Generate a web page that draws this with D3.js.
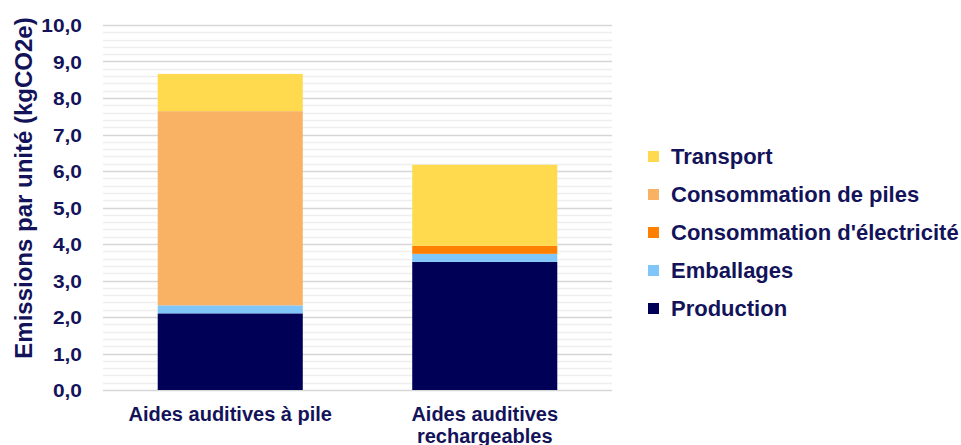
<!DOCTYPE html>
<html lang="fr">
<head>
<meta charset="utf-8">
<title>Emissions par unité</title>
<script src="https://cdn.jsdelivr.net/npm/d3@7"></script>
<style>
  body { margin: 0; background: #fff; }
  text { font-family: "Liberation Sans", Arial, sans-serif; font-weight: bold; fill: #13135a; }
</style>
</head>
<body>
<script>
// data
var categories = ["Aides auditives à pile", "Aides auditives rechargeables"];
var seriesNames = ["Production", "Emballages", "Consommation d'électricité", "Consommation de piles", "Transport"];
var production = [2.1, 3.51];
var emballages = [0.22, 0.22];
var electricite = [0, 0.22];
var piles = [5.32, 0];
var transport = [1.02, 2.22];
var yTicks = [0, 1, 2, 3, 4, 5, 6, 7, 8, 9, 10];

var colors = {
  "Production": "#000057",
  "Emballages": "#80c6f8",
  "Consommation d'électricité": "#ff8000",
  "Consommation de piles": "#f9b264",
  "Transport": "#ffda4f"
};

var w = 961, h = 445;
var margin = {top: 25, left: 103, bottom: 55};
var plotRight = 612;

var rows = categories.map(function(c, i) {
  return {
    cat: c,
    "Production": production[i],
    "Emballages": emballages[i],
    "Consommation d'électricité": electricite[i],
    "Consommation de piles": piles[i],
    "Transport": transport[i]
  };
});

var svg = d3.select("body").append("svg")
  .attr("width", w)
  .attr("height", h);

var x = d3.scaleBand()
  .domain(categories)
  .range([margin.left, plotRight])
  .paddingInner(0.43)
  .paddingOuter(0.215);

var y = d3.scaleLinear()
  .domain([0, 10])
  .range([390, margin.top]);

// minor gridlines every 0.2
var minor = d3.range(0, 10.01, 0.2).filter(function(v) { return Math.abs(v - Math.round(v)) > 0.01; });
svg.append("g").selectAll("line")
  .data(minor)
  .enter().append("line")
  .attr("x1", margin.left).attr("x2", plotRight)
  .attr("y1", function(d) { return Math.round(y(d)) + 0.5; })
  .attr("y2", function(d) { return Math.round(y(d)) + 0.5; })
  .style("stroke", "#eeeeee")
  .style("stroke-width", 1.3);

// major gridlines
svg.append("g").selectAll("line")
  .data(yTicks)
  .enter().append("line")
  .attr("x1", margin.left).attr("x2", plotRight)
  .attr("y1", function(d) { return Math.round(y(d)) + 0.5; })
  .attr("y2", function(d) { return Math.round(y(d)) + 0.5; })
  .style("stroke", "#d6d6d6")
  .style("stroke-width", 1.5);

// stacked bars
var stack = d3.stack().keys(seriesNames);
var layers = stack(rows);

svg.append("g").selectAll("g")
  .data(layers)
  .enter().append("g")
  .attr("fill", function(d) { return colors[d.key]; })
  .selectAll("rect")
  .data(function(d) { return d; })
  .enter().append("rect")
  .attr("x", function(d) { return x(d.data.cat); })
  .attr("width", x.bandwidth())
  .attr("y", function(d) { return y(d[1]); })
  .attr("height", function(d) { return y(d[0]) - y(d[1]); });

// y axis
var yAxis = d3.axisLeft(y)
  .tickValues(yTicks)
  .tickSize(0)
  .tickPadding(0)
  .tickFormat(function(d) { return d3.format(".1f")(d).replace(".", ","); });

var yg = svg.append("g")
  .attr("transform", "translate(82,0)")
  .call(yAxis);
yg.select(".domain").remove();
yg.selectAll("text")
  .attr("x", 0)
  .attr("dy", "0.35em")
  .attr("transform", "scale(1.1,1)")
  .style("font-size", "19px");

// x axis labels
var xAxis = d3.axisBottom(x).tickSize(0).tickFormat("");
var xg = svg.append("g")
  .attr("transform", "translate(0,390)")
  .call(xAxis);
xg.select(".domain").remove();

var xLabels = [["Aides auditives à pile"], ["Aides auditives", "rechargeables"]];
categories.forEach(function(c, i) {
  var t = svg.append("text")
    .attr("text-anchor", "middle")
    .attr("x", x(c) + x.bandwidth() / 2)
    .attr("y", 421)
    .style("font-size", "20px");
  xLabels[i].forEach(function(line, j) {
    t.append("tspan")
      .attr("x", x(c) + x.bandwidth() / 2)
      .attr("dy", j === 0 ? 0 : 22)
      .text(line);
  });
});

// y title
svg.append("text")
  .attr("transform", "translate(32,188) rotate(-90)")
  .attr("text-anchor", "middle")
  .style("font-size", "24px")
  .text("Emissions par unité (kgCO2e)");

// legend
var legendOrder = ["Transport", "Consommation de piles", "Consommation d'électricité", "Emballages", "Production"];
var legend = svg.append("g").selectAll("g")
  .data(legendOrder)
  .enter().append("g")
  .attr("transform", function(d, i) { return "translate(648," + (156.5 + i * 38) + ")"; });

legend.append("rect")
  .attr("x", 0).attr("y", -5.5)
  .attr("width", 11).attr("height", 11)
  .attr("fill", function(d) { return colors[d]; });

legend.append("text")
  .attr("x", 23)
  .attr("dy", "0.35em")
  .style("font-size", "22px")
  .text(function(d) { return d; });
</script>
</body>
</html>
